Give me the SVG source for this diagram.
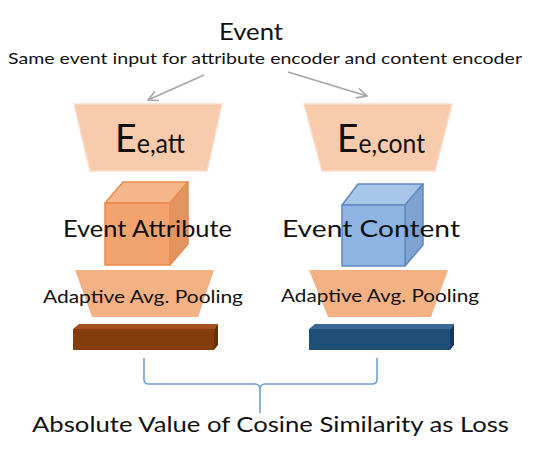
<svg xmlns="http://www.w3.org/2000/svg" width="540" height="458" viewBox="0 0 540 458">
<style>
text{font-family:Lato,"Open Sans","Liberation Sans",sans-serif;fill:#111}
.enc{fill:#f8cbad;stroke:#fadccb;stroke-width:1.5}
.pool{fill:#f4b183}
.arr{fill:none;stroke:#a6a6a6;stroke-width:1.6}
.brace{fill:none;stroke:#6f9fd4;stroke-width:1.6}
</style>
<defs>
<marker id="ah" viewBox="0 0 12 12" refX="11" refY="6" markerWidth="12" markerHeight="12" markerUnits="userSpaceOnUse" orient="auto">
<polyline points="1,1 11,6 1,11" fill="none" stroke="#a6a6a6" stroke-width="1.6"/>
</marker>
</defs>
<rect width="540" height="458" fill="#fff"/>
<g id="title">
<text x="219" y="40" font-size="23" textLength="64" lengthAdjust="spacingAndGlyphs">Event</text>
<text x="8" y="64" font-size="15" textLength="514" lengthAdjust="spacingAndGlyphs">Same event input for attribute encoder and content encoder</text>
</g>
<g id="connectors">
<line class="arr" x1="204" y1="75" x2="148" y2="100" marker-end="url(#ah)"/>
<line class="arr" x1="288" y1="72" x2="367" y2="96" marker-end="url(#ah)"/>
<path class="brace" d="M144,358 V379 Q144,384 149,384 H255 Q260,384 260,390 V413 M260,390 Q260,384 265,384 H372 Q377,384 377,379 V358"/>
</g>
<g id="enc-att">
<polygon class="enc" points="74,104 222,104 207,171 90,171"/>
<text x="115" y="152" font-size="39" textLength="70" lengthAdjust="spacingAndGlyphs">E<tspan font-size="26" dy="1">e,att</tspan></text>
</g>
<g id="enc-cont">
<polygon class="enc" points="304,104 452,104 435,171 322,171"/>
<text x="337" y="152" font-size="39" textLength="88" lengthAdjust="spacingAndGlyphs">E<tspan font-size="26" dy="1">e,cont</tspan></text>
</g>
<g id="cube-att" stroke="#ea8b4e" stroke-width="1.5" stroke-linejoin="round">
<polygon points="105,203 123,182 188,182 170,203" fill="#f6b78c"/>
<polygon points="170,203 188,182 188,244 170,265" fill="#e3955f"/>
<rect x="105" y="203" width="65" height="62" fill="#f3a36d"/>
<text x="63" y="237" font-size="23" stroke="none" textLength="169" lengthAdjust="spacingAndGlyphs">Event Attribute</text>
</g>
<g id="cube-cont" stroke="#6388be" stroke-width="1.5" stroke-linejoin="round">
<polygon points="342,205 358,184 423,184 405,205" fill="#a8c5ea"/>
<polygon points="405,205 423,184 423,245 405,266" fill="#7ea2d1"/>
<rect x="342" y="205" width="63" height="61" fill="#8eb4e3"/>
<text x="282" y="237" font-size="23" stroke="none" textLength="178" lengthAdjust="spacingAndGlyphs">Event Content</text>
</g>
<g id="pool-att">
<polygon class="pool" points="75,270 214,270 198,317 92,317"/>
<text x="43" y="303" font-size="17" textLength="200" lengthAdjust="spacingAndGlyphs">Adaptive Avg. Pooling</text>
</g>
<g id="pool-cont">
<polygon class="pool" points="309,270 448,270 431,317 328,317"/>
<text x="281" y="302" font-size="17" textLength="198" lengthAdjust="spacingAndGlyphs">Adaptive Avg. Pooling</text>
</g>
<g id="vec-att">
<polygon points="73,329 79,324 218,324 214,329" fill="#a14f1d"/>
<polygon points="214,329 218,324 218,345 214,350" fill="#6b2f08"/>
<rect x="73" y="329" width="141" height="21" fill="#843c0c"/>
</g>
<g id="vec-cont">
<polygon points="309,329 315,324 454,324 450,329" fill="#3a6794"/>
<polygon points="450,329 454,324 454,345 450,350" fill="#163a5c"/>
<rect x="309" y="329" width="141" height="21" fill="#1f4e79"/>
</g>
<g id="loss">
<text x="32" y="432" font-size="22" textLength="477" lengthAdjust="spacingAndGlyphs">Absolute Value of Cosine Similarity as Loss</text>
</g>
</svg>
